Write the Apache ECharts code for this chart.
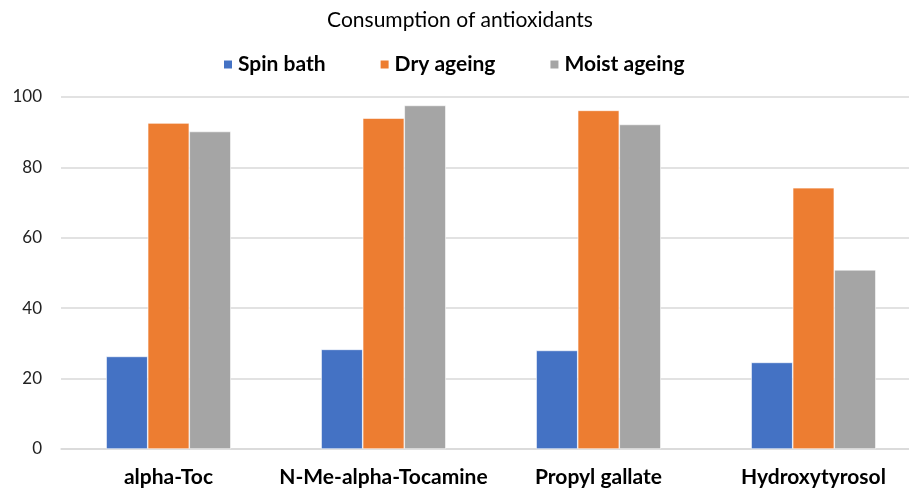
<!DOCTYPE html>
<html><head><meta charset="utf-8">
<script src="https://cdn.jsdelivr.net/npm/echarts@6/dist/echarts.min.js"></script>
<style>html,body{margin:0;padding:0;background:#fff;overflow:hidden;width:909px;height:488px}#c{width:925px;height:488px}</style>
</head><body><div id="c"></div>
<script>
const categories = ['alpha-Toc', 'N-Me-alpha-Tocamine', 'Propyl gallate', 'Hydroxytyrosol'];
const spinBath = [26.3, 28.3, 28.0, 24.6];
const dryAgeing = [92.6, 94.0, 96.2, 74.2];
const moistAgeing = [90.2, 97.6, 92.2, 50.9];
const yTicks = [0, 20, 40, 60, 80, 100];

const FONT = 'Lato';
const chart = echarts.init(document.getElementById('c'), null, {renderer: 'canvas'});
const mk = (name, data, color) => ({
  name, type: 'bar', data, barGap: '0%', barCategoryGap: '42%',
  itemStyle: {color, borderColor: '#ffffff', borderWidth: 0.6},
  emphasis: {disabled: true}
});
chart.setOption({
  animation: false,
  textStyle: {fontFamily: FONT},
  title: {
    text: 'Consumption of antioxidants', left: 455, top: 5, textAlign: 'center',
    textStyle: {fontFamily: FONT, fontSize: 21, fontWeight: 'normal', color: '#000'}
  },
  legend: {
    top: 54, left: 222, padding: 0, itemWidth: 10, itemHeight: 10, itemGap: 53,
    icon: 'rect',
    textStyle: {fontFamily: FONT, fontSize: 21, fontWeight: 'bold', color: '#000'},
    data: ['Spin bath', 'Dry ageing', 'Moist ageing']
  },
  grid: {left: 61, right: 4, top: 97, height: 352, containLabel: false},
  xAxis: {
    type: 'category', data: categories,
    axisLine: {lineStyle: {color: '#d9d9d9', width: 1.5}},
    axisTick: {show: false},
    axisLabel: {interval: 0, fontFamily: FONT, fontSize: 21, fontWeight: 'bold', color: '#000', margin: 18}
  },
  yAxis: {
    type: 'value', min: yTicks[0], max: yTicks[yTicks.length - 1], interval: 20,
    axisLine: {show: false}, axisTick: {show: false},
    splitLine: {lineStyle: {color: '#d9d9d9', width: 1.5}},
    axisLabel: {fontFamily: FONT, fontSize: 17, color: '#222', margin: 19}
  },
  series: [
    mk('Spin bath', spinBath, '#4472c4'),
    mk('Dry ageing', dryAgeing, '#ed7d31'),
    mk('Moist ageing', moistAgeing, '#a5a5a5')
  ]
});
</script></body></html>
